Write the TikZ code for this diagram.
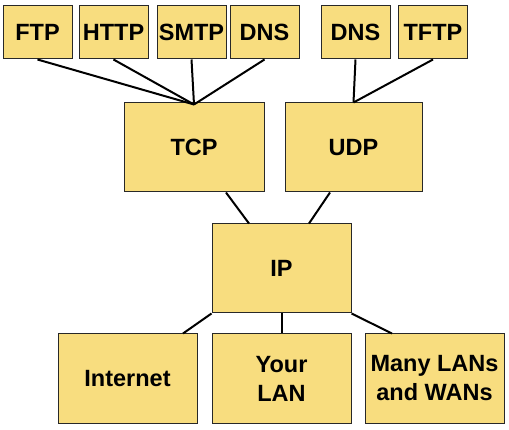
\documentclass[tikz,border=0pt]{standalone}
\usepackage{fontspec}
\setmainfont{Liberation Sans}
\usepackage{xcolor}
\definecolor{boxfill}{RGB}{248,221,127}
\definecolor{boxline}{RGB}{40,40,40}
\tikzset{
  link/.style={line width=2pt, black},
}
\begin{document}
\begin{tikzpicture}[
  x=1pt, y=-1pt,
  box/.style={draw=boxline, line width=1pt, fill=boxfill, inner sep=0pt,
    align=center, font=\fontsize{23.5}{29}\selectfont\bfseries},
  app/.style={box, minimum width=69pt, minimum height=53pt},
  proto/.style={box, minimum width=139pt, minimum height=89pt}
]
\useasboundingbox (0,0) rectangle (509,430);

% applications
\node[app] (ftp)  at (37.5,32.5)  {FTP};
\node[app] (http) at (113.5,32.5) {HTTP};
\node[app] (smtp) at (191.5,32.5) {SMTP};
\node[app] (dns)  at (264.5,32.5) {DNS};
\node[app] (dnsu) at (355.5,32.5) {DNS};
\node[app] (tftp) at (433,32.5)   {TFTP};

% transport
\node[proto, minimum width=140pt] (tcp) at (194,147.5) {TCP};
\node[proto, minimum width=137pt] (udp) at (353.5,147.5) {UDP};

% network
\node[proto] (ip) at (281.5,268.5) {IP};

% links
\node[proto] (inet) at (127.5,378.5) {Internet};
\node[proto] (lan)  at (281.5,378.5) {Your\\LAN};
\node[proto] (wan)  at (434.5,378.5) {Many LANs\\and WANs};

\path[link]
(ftp.south)  edge ([yshift=-2pt]tcp.north)
(http.south) edge ([yshift=-2pt]tcp.north)
(smtp.south) edge ([yshift=-2pt]tcp.north)
(dns.south)  edge ([yshift=-2pt]tcp.north)
(dnsu.south) edge (udp.north)
(tftp.south) edge (udp.north)
([xshift=32pt]tcp.south)    edge ([xshift=-32.5pt]ip.north)
([xshift=-23.5pt]udp.south) edge ([xshift=27.5pt]ip.north)
(ip.south west) edge ([xshift=55.5pt]inet.north)
(ip.south)      edge (lan.north)
(ip.south east) edge ([xshift=-42.5pt]wan.north);

\end{tikzpicture}
\end{document}
